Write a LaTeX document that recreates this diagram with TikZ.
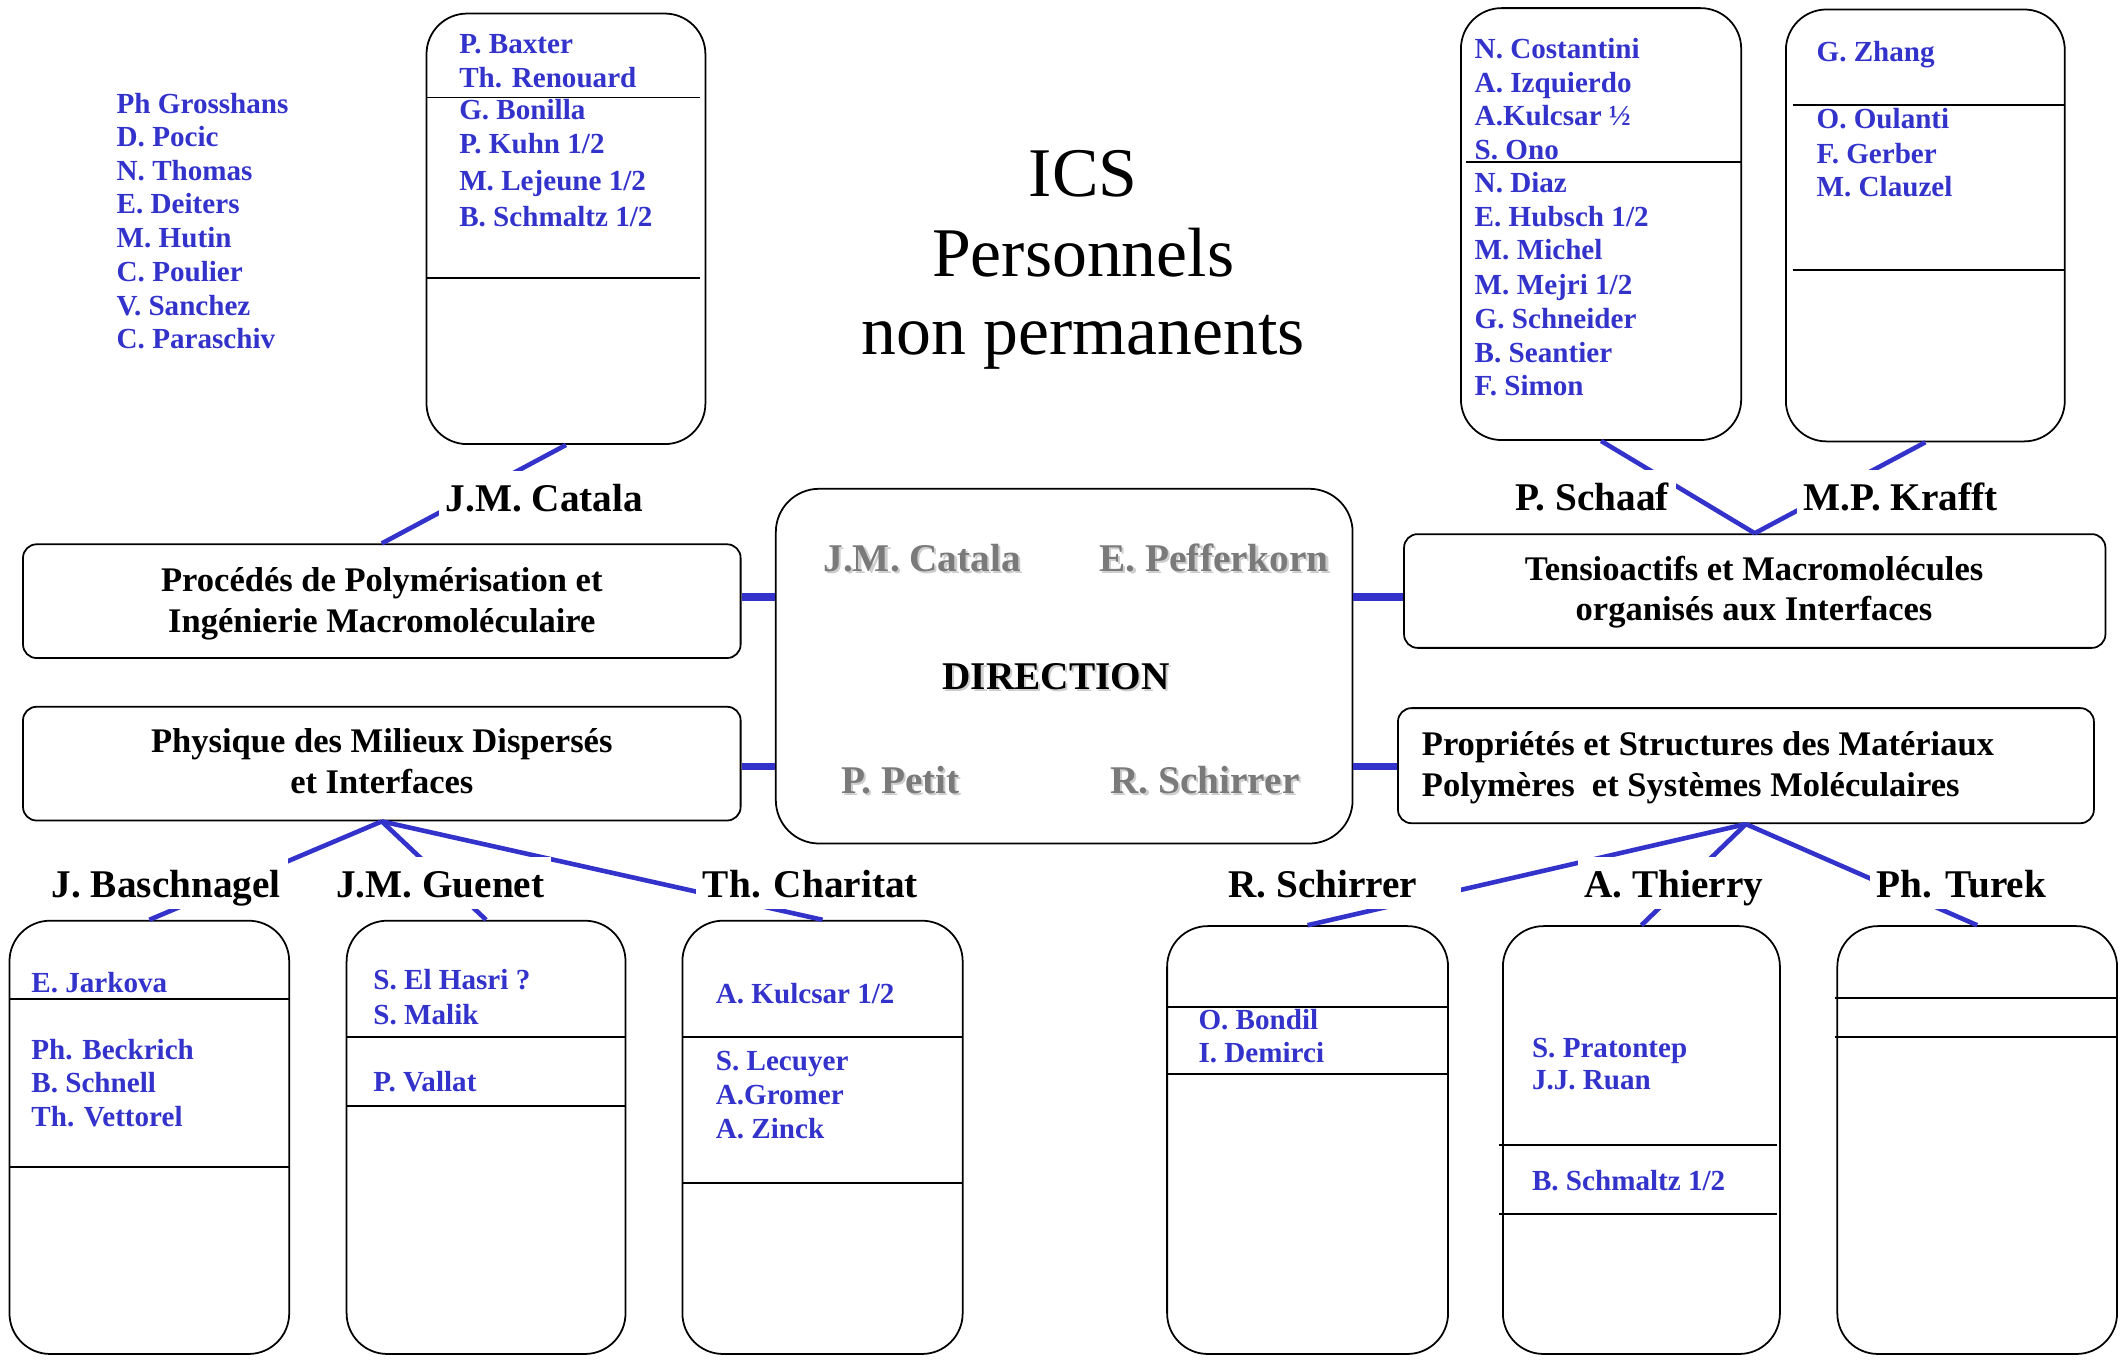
\documentclass[tikz,border=0pt]{standalone}
\usepackage{fontspec}
\setmainfont{Liberation Serif}
\definecolor{ink}{RGB}{51,51,204}
\definecolor{dimgrey}{RGB}{122,122,122}
\definecolor{softgrey}{RGB}{205,205,205}
\begin{document}
\begin{tikzpicture}[x=1pt,y=-1pt,
  box/.style={draw=black,line width=1.3pt,rounded corners=#1,inner sep=0pt},
  box/.default=30pt,
  sep/.style={draw=black,line width=1.4pt},
  link/.style={draw=ink,line width=3.4pt},
  stub/.style={draw=ink,line width=5.5pt},
  member/.style={font=\fontsize{21.5}{25}\selectfont\bfseries,text=ink,anchor=base west,inner sep=0pt},
  head/.style={font=\fontsize{29}{34}\selectfont\bfseries,fill=white,anchor=base west,inner xsep=5pt,inner ysep=0pt,text height=30pt,text depth=8pt},
  team/.style={font=\fontsize{25.5}{30}\selectfont\bfseries,inner sep=0pt,anchor=base},
  dirname/.style={font=\fontsize{29}{34}\selectfont\bfseries,text=dimgrey,anchor=base west,inner sep=0pt},
  dirshadow/.style={dirname,text=softgrey},
  title/.style={font=\fontsize{51.5}{60}\selectfont,anchor=base,inner sep=0pt}
]
\useasboundingbox (0,0) rectangle (1568,1004);

% title
\node[title] (t1) at (800,145) {ICS};
\node[title] (t2) at (800,204) {Personnels};
\node[title] (t3) at (800,262) {non permanents};

% rounded boxes
\node[box,minimum width=206pt,minimum height=318pt] (bxA) at (418,169) {};
\node[box,minimum width=207pt,minimum height=319pt] (bxB) at (1182.5,165.5) {};
\node[box,minimum width=206pt,minimum height=319pt] (bxC) at (1422,166.5) {};
\node[box=32pt,minimum width=426pt,minimum height=262pt] (dir) at (786,492) {};
\node[box=10pt,minimum width=530pt,minimum height=84pt] (proc) at (282,444) {};
\node[box=10pt,minimum width=530pt,minimum height=84pt] (phys) at (282,564) {};
\node[box=10pt,minimum width=518pt,minimum height=84pt] (tens) at (1296,436.5) {};
\node[box=10pt,minimum width=514pt,minimum height=85pt] (prop) at (1289.5,565.5) {};
\node[box,minimum width=206.6pt,minimum height=320pt] (bxD) at (110.3,840) {};
\node[box,minimum width=206pt,minimum height=320pt] (bxE) at (359,840) {};
\node[box,minimum width=207pt,minimum height=320pt] (bxF) at (607.5,840) {};
\node[box,minimum width=207.5pt,minimum height=316pt] (bxG) at (965.75,842) {};
\node[box,minimum width=204.6pt,minimum height=316pt] (bxH) at (1212.3,842) {};
\node[box,minimum width=206.6pt,minimum height=316pt] (bxI) at (1460.3,842) {};

% separators inside the boxes
\draw[sep] (315,72) -- (517,72) (315,205.6) -- (517,205.6);
\draw[sep] (1083,119.5) -- (1286,119.5);
\draw[sep] (1324,77.6) -- (1525,77.6) (1324,199.4) -- (1525,199.4);
\draw[sep] (7,738) -- (213.6,738) (7,862) -- (213.6,862);
\draw[sep] (256,766) -- (462,766) (256,817) -- (462,817);
\draw[sep] (504,766) -- (711,766) (504,874) -- (711,874);
\draw[sep] (862,744) -- (1069.5,744) (862,793) -- (1069.5,793);
\draw[sep] (1107,845.4) -- (1312.5,845.4) (1107,896.3) -- (1312.5,896.3);
\draw[sep] (1355,737) -- (1563.6,737) (1355,766) -- (1563.6,766);

% connectors
\draw[link] (bxA.south) -- (proc.north);
\draw[link] (bxB.south) -- (tens.north);
\draw[link] (bxC.south) -- (tens.north);
\draw[link] (phys.south) -- (bxD.north);
\draw[link] (phys.south) -- (bxE.north);
\draw[link] (phys.south) -- (bxF.north);
\draw[link] (prop.south) -- (bxG.north);
\draw[link] (prop.south) -- (bxH.north);
\draw[link] (prop.south) -- (bxI.north);
\draw[stub] ([yshift=3pt]proc.east) -- ([yshift=51pt]dir.west);
\draw[stub] ([yshift=-2pt]phys.east) -- ([yshift=-74pt]dir.west);
\draw[stub] ([yshift=51pt]dir.east) -- ([yshift=-4.5pt]tens.west);
\draw[stub] ([yshift=-74pt]dir.east) -- ([yshift=-0.5pt]prop.west);

% team leaders
\node[head] (hCatala) at (324,378) {J.M. Catala};
\node[head] (hSchaaf) at (1114,377) {P. Schaaf};
\node[head] (hKrafft) at (1327,377) {M.P. Krafft};
\node[head] (hBasch) at (33,663) {J. Baschnagel};
\node[head] (hGuenet) at (243,663) {J.M. Guenet};
\node[head] (hCharitat) at (514,663) {Th. Charitat};
\node[head] (hSchirrer) at (902,663) {R. Schirrer\kern27pt};
\node[head] (hThierry) at (1165,663) {A. Thierry};
\node[head] (hTurek) at (1381,663) {Ph. Turek};

% direction
\node[dirshadow] (dCatalaS) at (609.6,423.6) {J.M. Catala};
\node[dirname] (dCatala) at (608,422) {J.M. Catala};
\node[dirshadow] (dPefferS) at (813.6,423.6) {E. Pefferkorn};
\node[dirname] (dPeffer) at (812,422) {E. Pefferkorn};
\node[dirshadow] (dTitleS) at (697.6,510.6) {DIRECTION};
\node[dirname,text=black] (dTitle) at (696,509) {DIRECTION};
\node[dirshadow] (dPetitS) at (622.6,587.6) {P. Petit};
\node[dirname] (dPetit) at (621,586) {P. Petit};
\node[dirshadow] (dSchirrerS) at (821.6,587.6) {R. Schirrer};
\node[dirname] (dSchirrer) at (820,586) {R. Schirrer};

% team names
\node[team] (tProc1) at (282,437) {Procédés de Polymérisation et};
\node[team] (tProc2) at (282,467) {Ingénierie Macromoléculaire};
\node[team] (tPhys1) at (282,556) {Physique des Milieux Dispersés};
\node[team] (tPhys2) at (282,586) {et Interfaces};
\node[team] (tTens1) at (1295.5,428.5) {Tensioactifs et Macromolécules};
\node[team] (tTens2) at (1295.5,458) {organisés aux Interfaces};
\node[team,anchor=base west] (tProp1) at (1050,557.7) {Propriétés et Structures des Matériaux};
\node[team,anchor=base west] (tProp2) at (1050,588.5) {Polymères\ \ et Systèmes Moléculaires};

% members
\foreach \n/\y [count=\i] in {{Ph Grosshans}/83.7,{D. Pocic}/108.3,{N. Thomas}/133,{E. Deiters}/158,{M. Hutin}/183,{C. Poulier}/208,{V. Sanchez}/233,{C. Paraschiv}/257.5}
  \node[member] (mFree\i) at (86,\y) {\n};
\foreach \n/\y [count=\i] in {{P. Baxter}/39.4,{Th. Renouard}/64.5,{G. Bonilla}/88.6,{P. Kuhn 1/2}/113.7,{M. Lejeune 1/2}/140.8,{B. Schmaltz 1/2}/167}
  \node[member] (mA\i) at (339,\y) {\n};
\foreach \n/\y [count=\i] in {{N. Costantini}/43,{A. Izquierdo}/68.5,{A.Kulcsar ½}/93,{S. Ono}/117.5,{N. Diaz}/142,{E. Hubsch 1/2}/167,{M. Michel}/192,{M. Mejri 1/2}/217.5,{G. Schneider}/242.5,{B. Seantier}/267.5,{F. Simon}/292}
  \node[member] (mB\i) at (1089,\y) {\n};
\foreach \n/\y [count=\i] in {{G. Zhang}/45.6,{O. Oulanti}/94.8,{F. Gerber}/120.6,{M. Clauzel}/145.3}
  \node[member] (mC\i) at (1341.5,\y) {\n};
\foreach \n/\y [count=\i] in {{E. Jarkova}/733,{Ph. Beckrich}/782.6,{B. Schnell}/807,{Th. Vettorel}/832}
  \node[member] (mD\i) at (23,\y) {\n};
\foreach \n/\y [count=\i] in {{S. El Hasri ?}/731,{S. Malik}/756.5,{P. Vallat}/806}
  \node[member] (mE\i) at (275.6,\y) {\n};
\foreach \n/\y [count=\i] in {{A. Kulcsar 1/2}/741,{S. Lecuyer}/791,{A.Gromer}/815.5,{A. Zinck}/841}
  \node[member] (mF\i) at (528.5,\y) {\n};
\foreach \n/\y [count=\i] in {{O. Bondil}/760.7,{I. Demirci}/785}
  \node[member] (mG\i) at (885,\y) {\n};
\foreach \n/\y [count=\i] in {{S. Pratontep}/780.8,{J.J. Ruan}/804.7,{B. Schmaltz 1/2}/879.3}
  \node[member] (mH\i) at (1131.3,\y) {\n};
\end{tikzpicture}
\end{document}
